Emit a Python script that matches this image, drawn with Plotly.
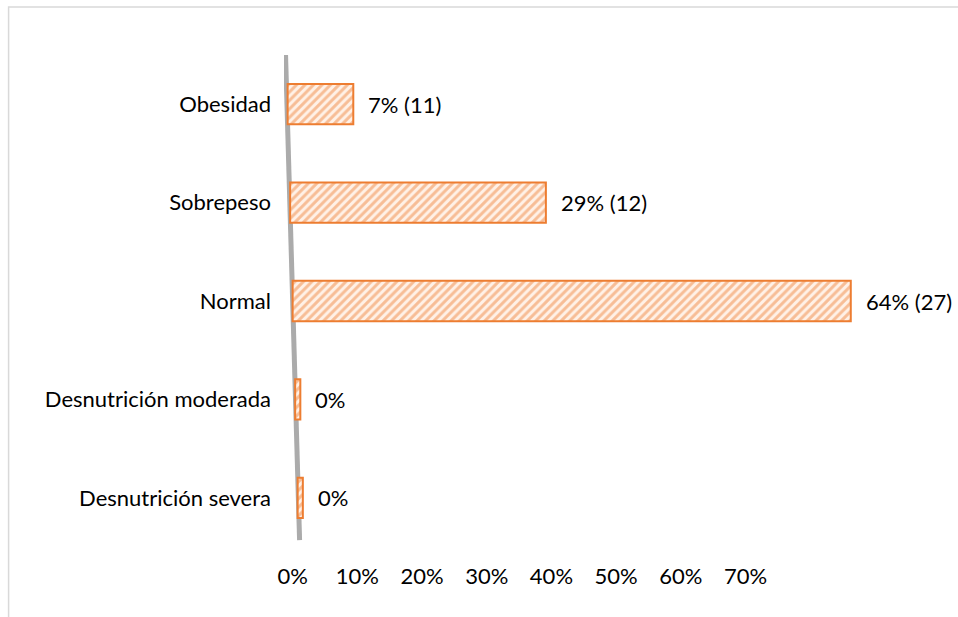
import plotly.graph_objects as go

# ---- data (bottom to top) ----
categories = ["Desnutrición severa", "Desnutrición moderada", "Normal", "Sobrepeso", "Obesidad"]
percent_values = [0, 0, 64, 29, 7]
counts = [0, 0, 27, 12, 11]
tick_values = [0, 10, 20, 30, 40, 50, 60, 70]
tick_labels = ["0%", "10%", "20%", "30%", "40%", "50%", "60%", "70%"]

# ---- style constants (imitating Excel 3-D look) ----
SLANT = 0.29      # horizontal shift of the slanted axis per category (in % units)
DEPTH = 0.6       # visible 3-D depth of each bar (in % units)
ORANGE = "#ED7D31"
FONT = "Lato"
FS = 22

n = len(categories)
mid = (n - 1) / 2
bases = [-(i - mid) * SLANT for i in range(n)]
lengths = [v + DEPTH for v in percent_values]
labels = [f"{v}% ({c})" if c else f"{v}%" for v, c in zip(percent_values, counts)]

X_RANGE = [-1.0, 74.0]
BAR_PX = 8.64
TICK_PX = 6.47
x2_start = X_RANGE[0] * BAR_PX / TICK_PX
x2_end = x2_start + (X_RANGE[1] - X_RANGE[0]) * BAR_PX / TICK_PX

fig = go.Figure()
fig.add_trace(go.Bar(
    y=categories,
    x=lengths,
    base=bases,
    orientation="h",
    width=0.41,
    marker=dict(
        color="#FDEBDD",
        line=dict(color=ORANGE, width=2),
        pattern=dict(shape="/", size=6, solidity=0.5, fgcolor="#F08A45", bgcolor="#FFF1E7"),
    ),
    hoverinfo="skip",
    showlegend=False,
))
fig.add_trace(go.Scatter(x=[0], y=[categories[0]], xaxis="x2", mode="markers",
                         marker=dict(opacity=0), hoverinfo="skip", showlegend=False))

annotations = []
for cat, b, L, lab in zip(categories, bases, lengths, labels):
    annotations.append(dict(x=b + L, y=cat, xref="x", yref="y", text=lab, showarrow=False,
                            xanchor="left", yanchor="middle", xshift=13,
                            font=dict(family=FONT, size=FS, color="#000000")))

top_y = n - 1 + 0.6
bot_y = -0.43
shapes = [
    # slanted category axis line
    dict(type="line", xref="x", yref="y",
         x0=-(top_y - mid) * SLANT - 0.1, y0=top_y,
         x1=-(bot_y - mid) * SLANT + 0.1, y1=bot_y,
         line=dict(color="#ABABAB", width=5), layer="below"),
    # chart border (top & left visible)
    dict(type="rect", xref="paper", yref="paper", x0=-0.425, y0=-0.3, x1=1.1, y1=1.0976,
         line=dict(color="#D9D9D9", width=1.5), fillcolor="rgba(0,0,0,0)", layer="below"),
]

fig.update_layout(
    width=958, height=617,
    margin=dict(l=284, r=26, t=55, b=70),
    paper_bgcolor="white", plot_bgcolor="white",
    font=dict(family=FONT, size=FS, color="#000000"),
    xaxis=dict(range=X_RANGE, visible=False),
    xaxis2=dict(range=[x2_start, x2_end], overlaying="x", side="bottom", anchor="y",
                tickvals=tick_values, ticktext=tick_labels,
                showgrid=False, zeroline=False, showline=False, ticks="",
                ticklabelstandoff=14,
                tickfont=dict(family=FONT, size=FS, color="#000000")),
    yaxis=dict(categoryorder="array", categoryarray=categories, range=[-0.5, n - 0.5],
               showgrid=False, zeroline=False, showline=False, ticks="",
               ticklabelstandoff=12,
               tickfont=dict(family=FONT, size=FS, color="#000000")),
    annotations=annotations,
    shapes=shapes,
)

fig.write_html("out.html")
